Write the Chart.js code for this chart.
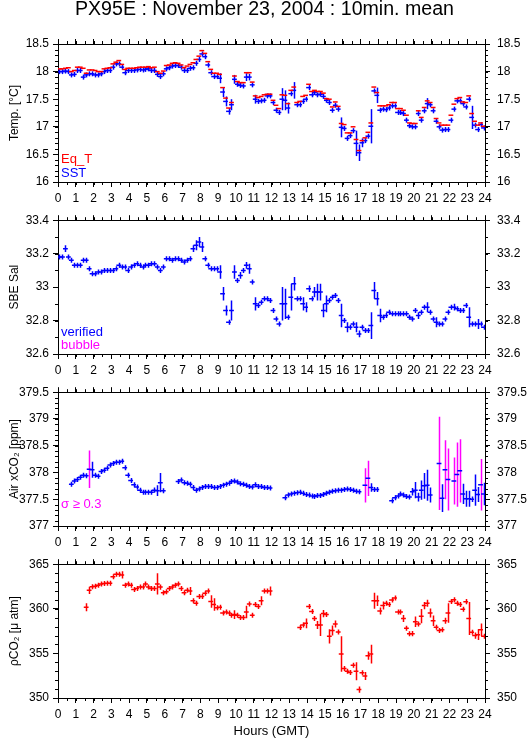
<!DOCTYPE html>
<html>
<head>
<meta charset="utf-8">
<script src="https://cdn.jsdelivr.net/npm/chart.js@4/dist/chart.umd.min.js"></script>
<style>
  body { margin: 0; background: #fff; }
  #wrap { position: relative; width: 529px; height: 739px; }
  #wrap canvas { position: absolute; left: 0; }
</style>
</head>
<body>
<div id="wrap">
  <canvas id="pTemp" width="529" height="208" style="top:0px"></canvas>
  <canvas id="pSal" width="529" height="174" style="top:206px"></canvas>
  <canvas id="pAir" width="529" height="174" style="top:378px"></canvas>
  <canvas id="pCo2" width="529" height="189" style="top:550px"></canvas>
</div>
<script>
// --- data: 10 minute means, one value per slot (144 slots), null = no data ---
const titleText = 'PX95E : November 23, 2004 : 10min. mean';

const eqT = [
  18.05,18.05,18.06,18.07,18.00,18.02, 18.08,18.08,18.06,17.97,18.03,18.03,
  18.02,18.00,18.00,18.05,18.06,18.07, 18.14,18.17,18.20,18.13,18.04,18.06,
  18.06,18.06,18.07,18.08,18.08,18.08, 18.09,18.07,18.08,18.00,17.97,18.01,
  18.11,18.12,18.15,18.16,18.15,18.12, 18.07,18.10,18.13,18.16,18.22,18.28,
  18.38,18.33,18.18,18.04,17.97,17.97, 17.95,17.71,17.52,17.34,17.44,17.92,
  17.82,17.80,17.80,17.98,17.98,17.81, 17.56,17.53,17.55,17.58,17.59,17.59,
  17.48,17.39,17.33,17.58,17.57,17.42, 17.66,17.72,17.44,17.46,17.55,17.57,
  17.77,17.64,17.66,17.64,17.64,17.61, 17.51,17.50,17.36,17.45,17.37,17.06,
  17.04,16.89,16.89,17.00,16.77,16.57, 16.75,16.80,16.90,17.07,17.72,17.62,
  17.38,17.38,17.38,17.40,17.44,17.44, 17.33,17.33,17.30,17.21,17.07,17.06,
  17.06,17.29,17.17,17.35,17.47,17.44, 17.35,17.15,17.07,17.03,17.03,17.03,
  17.21,17.41,17.51,17.53,17.45,17.44, 17.56,17.24,17.10,17.03,17.07,17.01
];
const sst = [
  18.00,18.00,18.01,18.00,17.94,17.95, 18.02,18.02,17.90,17.94,17.96,17.96,
  17.94,17.94,17.96,18.00,18.02,18.02, 18.08,18.14,18.14,18.08,17.98,18.02,
  18.02,18.02,18.03,18.04,18.03,18.04, 18.05,18.02,18.02,17.95,17.91,17.96,
  18.05,18.07,18.10,18.11,18.11,18.08, 18.02,18.02,18.06,18.07,18.15,18.22,
  18.32,18.27,18.12,17.98,17.91,17.91, 17.88,17.63,17.46,17.28,17.40,17.86,
  17.77,17.75,17.74,17.90,17.90,17.76, 17.50,17.46,17.47,17.48,17.56,17.56,
  17.44,17.30,17.26,17.50,17.48,17.34, 17.60,17.66,17.40,17.40,17.46,17.50,
  17.71,17.58,17.62,17.58,17.59,17.55, 17.48,17.44,17.30,17.39,17.32,16.99,
  16.97,16.79,16.84,16.93,16.70,16.53, 16.71,16.75,16.83,17.01,17.65,17.57,
  17.30,17.32,17.31,17.34,17.38,17.38, 17.26,17.26,17.24,17.12,17.02,17.00,
  17.00,17.24,17.12,17.29,17.42,17.40, 17.29,17.10,17.00,16.94,16.95,16.95,
  17.12,17.32,17.47,17.47,17.42,17.36, 17.50,17.17,17.03,16.95,17.04,16.98
];
const sstSd = [
  0,0,0,0,0,0, 0,0,0,0,0,0,  0,0,0,0,0,0, 0,0,0,0,0,0,
  0,0,0,0,0,0, 0,0,0,0,0,0,  0,0,0,0,0,0, 0,0,0,0,0,0,
  0,0,0,0,0,0, .09,.09,.09,.06,.1,.08,  0,0,0,.07,.06,0, .08,0,0,0,0,0,
  0,0,0,.2,.18,.1, 0,.15,0,0,0,0,  0,0,0,0,0,0, 0,0,0,0,0,.18,
  0,0,0,0,.23,.15, .08,0,0,.31,0,.14,  0,0,0,0,0,0, 0,0,0,0,0,0,
  0,0,0,0,.1,0, 0,0,0,0,0,0,  0,0,0,0,0,0, 0,.21,0,0,0,0
];

const sal = [
  33.18,33.18,33.23,33.18,33.16,33.13, 33.13,33.13,33.16,33.16,33.11,33.08,
  33.08,33.09,33.09,33.10,33.10,33.10, 33.10,33.11,33.13,33.12,33.12,33.10,
  33.12,33.13,33.14,33.13,33.12,33.13, 33.13,33.14,33.14,33.12,33.10,33.12,
  33.17,33.17,33.16,33.17,33.17,33.16, 33.15,33.16,33.17,33.23,33.25,33.27,
  33.24,33.17,33.13,33.11,33.11,33.11, 33.09,32.96,32.86,32.79,32.86,33.09,
  33.04,33.07,33.10,33.13,33.11,33.03, 32.90,32.89,32.91,32.93,32.93,32.92,
  32.86,32.81,32.78,32.90,32.90,32.82, 32.94,33.02,32.93,32.93,32.90,32.88,
  32.99,32.93,32.97,32.97,32.97,32.86, 32.90,32.92,32.94,32.95,32.92,32.83,
  32.80,32.76,32.76,32.78,32.76,32.72, 32.76,32.74,32.74,32.77,32.98,32.93,
  32.83,32.82,32.83,32.85,32.84,32.84, 32.84,32.84,32.84,32.84,32.82,32.81,
  32.86,32.83,32.85,32.88,32.88,32.85, 32.81,32.79,32.78,32.78,32.81,32.85,
  32.88,32.88,32.87,32.86,32.86,32.89, 32.82,32.78,32.78,32.78,32.78,32.76
];
const salSd = [
  0,0,.02,0,0,0, 0,0,0,0,0,0,  0,0,0,0,0,0, 0,0,0,0,0,0,
  0,0,0,0,0,0, 0,0,0,0,0,0,  0,0,0,0,0,0, 0,0,0,.02,.03,.03,
  .03,0,0,0,0,0, .04,.04,.03,.01,.06,.04,  0,.02,0,.02,.03,0, .04,0,0,0,0,0,
  0,0,0,.1,.09,0, .08,.04,0,0,.04,.03,  .02,0,.03,.05,.05,.04, .05,0,0,0,0,.07,
  0,.03,0,0,.03,.02, 0,0,0,.08,.05,.04,  .04,0,0,0,0,0, 0,0,0,0,0,0,
  0,.02,0,0,.03,0, 0,.03,0,0,0,0,  0,.02,0,0,0,0, .06,0,0,.03,0,0
];

const airCo2 = [
  null,null,null,null,377.78,377.84, 377.87,377.91,377.95,377.94,378.06,378.05,
  377.95,377.93,378.02,378.04,378.08,378.14, 378.17,378.19,378.19,378.21,378.09,377.95,
  377.85,377.77,377.73,377.67,377.63,377.63, 377.63,377.63,377.67,377.66,377.81,377.66,
  null,null,null,null,377.83,377.86, 377.81,377.80,377.78,377.72,377.67,377.69,
  377.72,377.74,377.74,377.74,377.72,377.72, 377.74,377.76,377.78,377.80,377.83,377.84,
  377.82,377.79,377.78,377.76,377.74,377.73, 377.77,377.74,377.74,377.72,377.72,377.71,
  null,null,null,null,377.53,377.58, 377.60,377.61,377.62,377.63,377.61,377.59,
  377.58,377.56,377.55,377.57,377.57,377.59, 377.61,377.63,377.65,377.66,377.67,377.67,
  377.68,377.69,377.68,377.67,377.65,377.64, null,377.76,377.89,377.72,377.68,377.68,
  null,null,null,null,377.47,377.53, 377.56,377.60,377.58,377.55,377.54,377.64,
  377.67,377.54,377.67,377.75,377.76,377.58, null,null,378.17,377.52,378.05,377.87,
  null,377.84,377.96,378.03,377.60,377.51, 377.51,377.50,377.67,377.59,377.77,377.60
];
const airSd = [
  0,0,0,0,0,0, 0,0,0,0,.35,.15,  0,0,0,0,0,0, 0,0,0,0,0,0,
  0,0,0,0,0,0, 0,0,.05,.1,.18,0,  0,0,0,0,0,0, 0,0,0,0,0,0,
  0,0,0,0,0,0, 0,0,0,0,0,0,  0,0,0,0,0,0, 0,0,0,0,0,0,
  0,0,0,0,0,0, 0,0,0,0,0,0,  0,0,0,0,0,0, 0,0,0,0,0,0,
  0,0,0,0,0,0, 0,.32,.33,.08,0,0,  0,0,0,0,0,0, 0,0,0,0,0,.07,
  .15,.08,.18,.24,.29,.14, 0,0,.87,.26,.55,.58,  0,.44,.6,.59,.19,.15, .15,.05,.29,.14,.48,.21
];

const pco2 = [
  null,null,null,null,null,null, null,null,null,360.18,362.07,362.46,
  362.54,362.65,362.79,362.83,362.86,362.86, 363.60,363.88,363.88,363.80,362.65,362.79,
  362.65,362.17,362.28,362.43,362.43,362.79, 362.43,362.28,362.28,362.79,362.43,361.81,
  361.92,362.28,362.43,362.65,362.79,362.28, 361.81,362.07,361.99,360.91,360.62,361.38,
  361.38,361.74,361.99,360.83,360.47,360.11, 360.18,359.53,359.64,359.53,359.28,359.35,
  359.28,359.02,359.02,359.64,360.54,359.28, 360.47,360.25,360.90,361.99,361.99,361.99,
  null,null,null,null,null,null, null,null,null,357.90,358.19,358.37,
  360.25,359.71,358.91,358.19,358.19,359.46, 359.35,356.92,357.57,358.30,357.39,354.93,
  353.30,353.00,352.86,353.66,353.00,350.94, 352.83,352.46,354.75,354.93,360.90,360.90,
  359.75,360.36,360.62,360.47,360.98,361.20, 359.64,359.64,358.91,357.83,357.21,357.21,
  358.55,358.30,359.17,360.36,360.62,359.53, 358.66,357.93,357.57,357.64,358.66,359.53,
  360.83,361.01,360.62,360.47,359.96,360.80, 358.91,357.36,357.00,357.10,357.65,356.92
];
const pco2Sd = [
  0,0,0,0,0,0, 0,0,0,.45,.4,0,  0,0,0,0,0,0, 0,0,0,.4,0,0,
  0,0,0,0,0,0, 0,0,0,1.2,.3,0,  0,0,0,0,0,0, 0,0,.45,0,0,0,
  0,0,0,.7,.7,0, 0,0,0,0,0,.5,  0,0,0,.7,0,0, 0,0,.5,0,0,.5,
  0,0,0,0,0,0, 0,0,0,0,0,.55,  0,0,0,.45,1.25,.4, 0,.8,.55,.4,0,2.0,
  0,0,0,0,1.0,.35, 0,.45,.45,1.05,.9,.6,  .4,.45,0,0,0,0, 0,0,.4,0,0,.3,
  .6,0,.8,.4,.4,.5, .6,0,0,0,.35,1.1,  0,0,0,0,0,.3, 1.85,0,.35,.6,.7,0
];

// --- look ---
const FONT = "'Liberation Sans', Arial, sans-serif";
const BLUE = '#0000ff', RED = '#ff0000', MAGENTA = '#ff00ff';
const CANVAS_W = 529, PLOT_LEFT = 58, PLOT_RIGHT = 485;

Chart.defaults.font.family = FONT;
Chart.defaults.color = '#000';

// slot mid-times in hours (x positions of the 10 min means)
const hours = Array.from({ length: 144 }, (_, i) => (i * 10 + 5) / 60);

// short ticks between the labelled ones, on all four sides
const minorTicks = {
  id: 'minorTicks',
  afterDraw(chart, args, opts) {
    const ctx = chart.ctx;
    ctx.save();
    ctx.strokeStyle = '#000';
    ctx.lineWidth = 1;
    ['x', 'x2', 'y', 'y2'].forEach(id => {
      const s = chart.scales[id];
      const step = id[0] === 'x' ? opts.x : opts.y;
      const n = Math.round((s.max - s.min) / step);
      for (let k = 0; k <= n; k++) {
        const p = Math.round(s.getPixelForValue(s.min + k * step)) + 0.5;
        ctx.beginPath();
        if (id === 'x') { ctx.moveTo(p, s.top); ctx.lineTo(p, s.top + 3); }
        else if (id === 'x2') { ctx.moveTo(p, s.bottom); ctx.lineTo(p, s.bottom - 3); }
        else if (id === 'y') { ctx.moveTo(s.right, p); ctx.lineTo(s.right - 3, p); }
        else { ctx.moveTo(s.left, p); ctx.lineTo(s.left + 3, p); }
        ctx.stroke();
      }
    });
    ctx.restore();
  }
};

// vertical bar of each mean: +/- sd, never shorter than minArm px
const errorBars = {
  id: 'errorBars',
  beforeDatasetsDraw(chart) {
    const { ctx, chartArea: a } = chart;
    const xs = chart.scales.x, ys = chart.scales.y;
    ctx.save();
    ctx.beginPath();
    ctx.rect(a.left, a.top, a.right - a.left, a.bottom - a.top);
    ctx.clip();
    chart.data.datasets.forEach(ds => {
      ds.data.forEach((p, i) => {
        if (p.y === null) return;
        const s = ds.sd ? ds.sd[i] : 0;
        const px = Math.round(xs.getPixelForValue(p.x)) + 0.5;
        const yc = ys.getPixelForValue(p.y);
        const y1 = Math.min(ys.getPixelForValue(p.y + s), yc - ds.minArm);
        const y2 = Math.max(ys.getPixelForValue(p.y - s), yc + ds.minArm);
        if (y2 - y1 <= 0) return;
        ctx.strokeStyle = ds.flagAt && s >= ds.flagAt ? ds.flagColor : ds.pointBorderColor;
        ctx.lineWidth = ds.pointBorderWidth;
        ctx.beginPath();
        ctx.moveTo(px, y1);
        ctx.lineTo(px, y2);
        ctx.stroke();
      });
    });
    ctx.restore();
  }
};

// coloured notes in the lower left corner of a panel
const panelText = {
  id: 'panelText',
  afterDraw(chart, args, opts) {
    const { ctx, chartArea } = chart;
    ctx.save();
    ctx.font = '13px ' + FONT;
    ctx.textBaseline = 'alphabetic';
    (opts.items || []).forEach(t => {
      ctx.fillStyle = t.color;
      ctx.fillText(t.text, chartArea.left + 3, chartArea.bottom - t.up);
    });
    ctx.restore();
  }
};

function series(label, vals, sd, color, extra) {
  return Object.assign({
    label,
    data: vals.map((v, i) => ({ x: hours[i], y: v })),
    sd,
    minArm: 2.5,
    pointStyle: 'line',
    pointRadius: 2.4,
    pointHoverRadius: 2.4,
    pointBorderWidth: 1.5,
    pointBorderColor: color,
    pointBackgroundColor: color,
    borderColor: color,
    showLine: false
  }, extra || {});
}

function makePanel(id, cfg) {
  const fmt = v => String(+(+v).toFixed(2));
  const grid = { drawOnChartArea: false, drawTicks: true, tickLength: 5, color: '#000', tickColor: '#000', lineWidth: 1 };
  const border = { display: true, color: '#000', width: 1 };
  const tickFont = { size: 12 };
  const bottomH = cfg.last ? 41 : 26;

  return new Chart(document.getElementById(id), {
    type: 'scatter',
    data: { datasets: cfg.datasets },
    options: {
      responsive: false,
      animation: false,
      events: [],
      layout: { padding: 0 },
      plugins: {
        legend: { display: false },
        tooltip: { enabled: false },
        title: cfg.title
          ? { display: true, text: cfg.title, color: '#000', font: { size: 19.6, weight: 'normal', lineHeight: 1 }, padding: { top: 0, bottom: 14.4 } }
          : { display: false },
        minorTicks: { x: 0.5, y: cfg.yMinor },
        panelText: { items: cfg.texts }
      },
      scales: {
        x: {
          type: 'linear', position: 'bottom', min: 0, max: 24,
          ticks: { stepSize: 1, autoSkip: false, maxRotation: 0, padding: 4, font: tickFont, callback: fmt },
          grid, border,
          title: cfg.last
            ? { display: true, text: 'Hours (GMT)', font: { size: 13 }, padding: { top: 0, bottom: 0 } }
            : { display: false },
          afterFit: s => { s.height = bottomH; }
        },
        x2: {
          type: 'linear', position: 'top', min: 0, max: 24,
          ticks: { stepSize: 1, display: false },
          grid, border,
          afterFit: s => { s.height = 10; }
        },
        y: {
          type: 'linear', position: 'left', min: cfg.yMin, max: cfg.yMax,
          ticks: { stepSize: cfg.yMajor, padding: 4, font: tickFont, callback: fmt },
          grid, border,
          title: { display: true, text: cfg.yTitle, font: { size: 12 }, padding: { top: 7, bottom: 0 } },
          afterFit: s => { s.width = PLOT_LEFT; }
        },
        y2: {
          type: 'linear', position: 'right', min: cfg.yMin, max: cfg.yMax,
          ticks: { stepSize: cfg.yMajor, padding: 7, font: tickFont, callback: fmt },
          grid, border,
          afterFit: s => { s.width = CANVAS_W - PLOT_RIGHT; }
        }
      }
    },
    plugins: [minorTicks, errorBars, panelText]
  });
}

makePanel('pTemp', {
  title: titleText,
  yTitle: 'Temp. [°C]', yMin: 16, yMax: 18.5, yMajor: 0.5, yMinor: 0.1,
  datasets: [
    series('Eq_T', eqT, null, RED, { minArm: 0 }),
    series('SST', sst, sstSd, BLUE)
  ],
  texts: [{ text: 'Eq_T', color: RED, up: 19 }, { text: 'SST', color: BLUE, up: 5 }]
});

makePanel('pSal', {
  yTitle: 'SBE Sal', yMin: 32.6, yMax: 33.4, yMajor: 0.2, yMinor: 0.1,
  datasets: [series('SBE Sal', sal, salSd, BLUE)],
  texts: [{ text: 'verified', color: BLUE, up: 18 }, { text: 'bubble', color: MAGENTA, up: 5 }]
});

makePanel('pAir', {
  yTitle: 'Air xCO₂ [ppm]', yMin: 377, yMax: 379.5, yMajor: 0.5, yMinor: 0.1,
  datasets: [series('Air xCO2', airCo2, airSd, BLUE, { flagAt: 0.3, flagColor: MAGENTA })],
  texts: [{ text: 'σ ≥ 0.3', color: MAGENTA, up: 18 }]
});

makePanel('pCo2', {
  last: true,
  yTitle: 'ρCO₂ [μ atm]', yMin: 350, yMax: 365, yMajor: 5, yMinor: 1,
  datasets: [series('pCO2', pco2, pco2Sd, RED)],
  texts: []
});
</script>
</body>
</html>
